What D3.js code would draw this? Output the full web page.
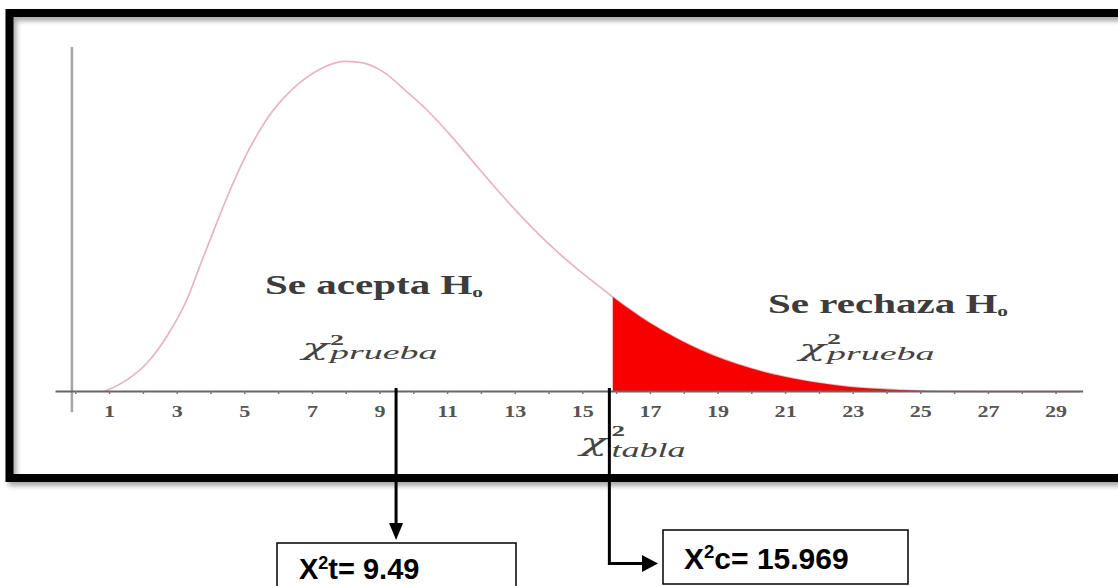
<!DOCTYPE html>
<html><head><meta charset="utf-8">
<script src="https://cdn.jsdelivr.net/npm/d3@7/dist/d3.min.js"></script>
<style>body{margin:0;background:#fff;overflow:hidden} svg{display:block}</style>
</head><body>
<svg id="chart" width="1118" height="586"></svg>
<script>
// ---- data ----
const curveX = [0.82,1.53,2.12,2.72,3.31,3.69,4.08,4.49,5.08,5.67,6.44,7.24,7.95,8.43,9.11,9.82,10.41,11.09,11.77,12.48,13.16,13.96,14.73,15.44,15.9,17.0,18.49,19.96,21.44,22.92,24.40,26.38,29.73];
const curveY = [0,0.0036,0.0086,0.0167,0.0276,0.0375,0.0475,0.0578,0.0708,0.0810,0.0900,0.0958,0.0981,0.0978,0.0950,0.0890,0.0836,0.0763,0.0683,0.0600,0.0525,0.0444,0.0375,0.0318,0.0282,0.0205,0.0125,0.0071,0.0036,0.0015,0.0006,0.0001,0];
const tickLabels = [1,3,5,7,9,11,13,15,17,19,21,23,25,27,29];
const minorTicks = [0,1,2,3,4,5,6,7,8,9,10,11,12,13,14,15,16,17,18,19,20,21,22,23,24,25,26,27,28,29];
const shadeStart = 15.9;          // start of rejection region (read)
const arrowLeftAt = 9.49;         // X²t
const arrowRightAt = 15.8;        // X²c connector position (read)
const boxLeftText = ["X","2","t= 9.49"];
const boxRightText = ["X","2","c= 15.969"];
const regionAccept = "Se acepta H";
const regionReject = "Se rechaza H";

const svg = d3.select("#chart");
const data = curveX.map((v,i)=>({x:v,y:curveY[i]}));

const x = d3.scaleLinear().domain([-0.6, 29.8]).range([55, 1082.6]);
const y = d3.scaleLinear().domain([0, 0.1]).range([392, 55]);

// ---- frame with shadow ----
const defs = svg.append("defs");
const f = defs.append("filter").attr("id","sh").attr("x","-5%").attr("y","-5%").attr("width","120%").attr("height","120%");
f.append("feDropShadow").attr("dx",3).attr("dy",4).attr("stdDeviation",2.5).attr("flood-color","#000").attr("flood-opacity",0.35);
svg.append("rect").attr("x",9.5).attr("y",13).attr("width",1200).attr("height",465)
  .attr("fill","none").attr("stroke","#000").attr("stroke-width",8).attr("filter","url(#sh)");

// ---- vertical axis ----
svg.append("line").attr("x1",x(-0.1)).attr("x2",x(-0.1)).attr("y1",y(0.1024)).attr("y2",y(-0.006))
  .attr("stroke","#a6a6a6").attr("stroke-width",2.5);

// ---- curve ----
const line = d3.line().x(d=>x(d.x)).y(d=>y(d.y)).curve(d3.curveMonotoneX);
svg.append("path").datum(data).attr("d",line).attr("fill","none")
  .attr("stroke","#e9b3c1").attr("stroke-width",1.7);

// ---- rejection region ----
defs.append("clipPath").attr("id","clipR").append("rect")
  .attr("x",x(shadeStart)).attr("y",0).attr("width",x.range()[1]-x(shadeStart)).attr("height",y(0));
const area = d3.area().x(d=>x(d.x)).y0(y(0)).y1(d=>y(d.y)).curve(d3.curveMonotoneX);
svg.append("path").datum(data).attr("d",area).attr("fill","#f80000").attr("clip-path","url(#clipR)");

// ---- x axis ----
const gMinor = svg.append("g").attr("transform",`translate(0,${y(0)-1})`)
  .call(d3.axisBottom(x).tickValues(minorTicks).tickSize(3).tickSizeOuter(0).tickFormat(""));
gMinor.select(".domain").attr("stroke","#666").attr("stroke-width",2);
gMinor.selectAll(".tick line").attr("stroke","#777").attr("stroke-width",1.5);

const gLab = svg.append("g").attr("transform",`translate(0,${y(0)})`)
  .call(d3.axisBottom(x).tickValues(tickLabels).tickSize(0));
gLab.select(".domain").remove();
gLab.selectAll(".tick text").attr("y",25).attr("dy",0)
  .attr("font-family","'Liberation Serif','Times New Roman',serif").attr("font-weight","bold")
  .attr("font-size",17).attr("fill","#555").attr("transform","scale(1.3,1)");

// ---- region labels ----
const serif = "'Liberation Serif','Times New Roman',serif";
function regionLabel(txt, px, py, len){
  const t = svg.append("text").attr("x",px).attr("y",py).attr("font-family",serif)
    .attr("font-weight","bold").attr("font-size",27).attr("fill","#3c3c3c")
    .attr("textLength",len).attr("lengthAdjust","spacingAndGlyphs");
  t.append("tspan").text(txt);
  t.append("tspan").attr("font-size",14).attr("dy",3).text("o");
}
regionLabel(regionAccept, 265, 294, 218);
regionLabel(regionReject, 768, 313, 240);

// χ² with stacked super/subscript, stretched horizontally like the source image
function chiLabel(px, py, sx, chiSize, off, supDy, supSize, sub, subDy, subSize){
  const t = svg.append("text").attr("transform",`translate(${px},${py}) scale(${sx},1)`)
    .attr("fill","#444");
  t.append("tspan").attr("font-family","'DejaVu Serif',serif").attr("font-style","italic")
    .attr("font-size",chiSize).text("χ");
  t.append("tspan").attr("x",off).attr("dy",supDy).attr("font-family",serif).attr("font-weight","bold")
    .attr("font-size",supSize).text("2");
  t.append("tspan").attr("x",off).attr("dy",subDy).attr("font-family",serif).attr("font-style","italic")
    .attr("font-size",subSize).text(sub);
}
chiLabel(302, 355, 2.0, 22, 14, -10, 14, "prueba", 14, 19);
chiLabel(799, 356, 2.0, 22, 14, -12, 14, "prueba", 16, 19);
chiLabel(580, 451, 1.8, 25, 17.5, -15, 15, "tabla", 21, 20);

// ---- connectors ----
const xl = x(arrowLeftAt), xr = x(arrowRightAt);
svg.append("line").attr("x1",xl).attr("x2",xl).attr("y1",388).attr("y2",525)
  .attr("stroke","#000").attr("stroke-width",3);
svg.append("path").attr("d",`M${xl-7},523L${xl+7},523L${xl},540Z`).attr("fill","#000");
svg.append("path").attr("d",`M${xr},388V563.5H644`).attr("fill","none").attr("stroke","#000").attr("stroke-width",3);
svg.append("path").attr("d",`M642,555L642,572L658,563.5Z`).attr("fill","#000");

// ---- boxes ----
svg.append("rect").attr("x",277).attr("y",543).attr("width",239).attr("height",70)
  .attr("fill","#fff").attr("stroke","#000").attr("stroke-width",1.5);
svg.append("rect").attr("x",663).attr("y",530).attr("width",245).attr("height",54)
  .attr("fill","#fff").attr("stroke","#000").attr("stroke-width",1.5);

function boxText(parts, px, py, size){
  const t = svg.append("text").attr("x",px).attr("y",py)
    .attr("font-family","'Liberation Sans',Arial,sans-serif").attr("font-weight","bold")
    .attr("font-size",size).attr("fill","#000");
  t.append("tspan").text(parts[0]);
  t.append("tspan").attr("font-size",size*0.62).attr("dy",-size*0.36).text(parts[1]);
  t.append("tspan").attr("dy",size*0.36).text(parts[2]);
}
boxText(boxLeftText, 299, 579, 29);
boxText(boxRightText, 684, 569, 30);
</script>
</body></html>
